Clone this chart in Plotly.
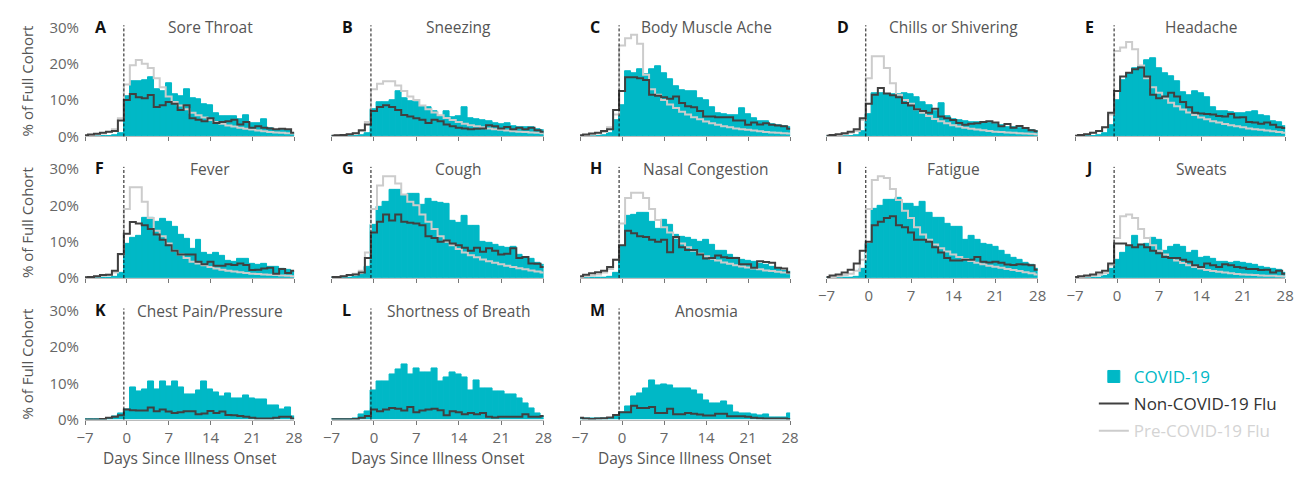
import plotly.graph_objects as go

# ---------------- data (percent of full cohort, days -7 .. 28) ----------------
DAYS = list(range(-7, 29))
X_TICKS = [-7, 0, 7, 14, 21, 28]
X_TICK_LABELS = ["\u22127", "0", "7", "14", "21", "28"]
Y_TICKS = [0, 10, 20, 30]
Y_TICK_LABELS = ["0%", "10%", "20%", "30%"]
ONSET_EDGE = -0.5

LETTERS = ["A", "B", "C", "D", "E", "F", "G", "H", "I", "J", "K", "L", "M"]
TITLES = ["Sore Throat", "Sneezing", "Body Muscle Ache", "Chills or Shivering", "Headache",
          "Fever", "Cough", "Nasal Congestion", "Fatigue", "Sweats",
          "Chest Pain/Pressure", "Shortness of Breath", "Anosmia"]

SORE_THROAT_COVID = [0, 0, 0, 0, 0, 0.3, 0.8, 11, 15.3, 15.3, 15.5, 16.3, 13.0, 12.5, 14.5, 11.5, 11.0, 13.0, 10.4, 10.2, 8.8, 8.5, 6.4, 5.5, 5.5, 5.5, 4.6, 5.7, 3.5, 3.5, 4.6, 2.2, 1.8, 1.8, 1.6, 1.0]
SORE_THROAT_FLU = [0.3, 0.5, 0.7, 1.0, 1.3, 1.5, 4.4, 10.0, 11.7, 10.8, 10.5, 11.4, 8.1, 8.6, 9.5, 9.0, 7.3, 8.6, 5.0, 4.6, 4.2, 5.0, 3.7, 4.0, 4.2, 4.6, 3.3, 4.0, 2.4, 2.8, 2.4, 2.2, 2.0, 2.1, 2.0, 1.0]
SORE_THROAT_PRE = [0.2, 0.3, 0.5, 0.8, 1.2, 2.0, 5.0, 14.3, 19.6, 21.0, 20.0, 18.8, 16.0, 13.5, 11.0, 9.5, 8.5, 7.5, 6.5, 5.8, 5.2, 4.5, 4.0, 3.5, 3.0, 2.7, 2.4, 2.1, 1.9, 1.6, 1.4, 1.2, 1.1, 1.0, 0.9, 0.8]

SNEEZING_COVID = [0, 0, 0, 0, 0, 0.3, 1.0, 7.5, 9.5, 9.5, 10.0, 12.5, 10.5, 9.8, 9.5, 8.2, 8.0, 6.8, 5.5, 6.8, 5.2, 5.5, 8.1, 5.0, 4.8, 4.5, 4.2, 3.7, 3.3, 3.5, 2.8, 2.6, 2.5, 2.4, 2.1, 1.6]
SNEEZING_FLU = [0.2, 0.3, 0.4, 0.6, 0.9, 1.7, 3.3, 7.0, 8.1, 8.6, 8.1, 7.3, 5.9, 5.5, 5.0, 4.6, 3.7, 4.6, 4.2, 3.3, 2.8, 2.4, 2.2, 2.0, 2.1, 2.2, 3.1, 2.8, 2.2, 2.6, 2.0, 2.4, 2.0, 2.4, 1.7, 1.3]
SNEEZING_PRE = [0.2, 0.3, 0.4, 0.6, 0.9, 1.5, 4.0, 13.0, 14.5, 15.2, 15.2, 14.0, 12.5, 11.0, 10.0, 8.5, 7.5, 6.6, 5.8, 5.1, 4.5, 4.0, 3.5, 3.1, 2.8, 2.5, 2.2, 2.0, 1.8, 1.6, 1.4, 1.3, 1.2, 1.1, 1.0, 0.9]

MUSCLE_COVID = [0, 0, 0, 0, 0.3, 0.8, 4.5, 8.5, 18.0, 17.5, 18.5, 17.0, 18.5, 19.3, 17.3, 15.7, 13.9, 12.8, 12.3, 12.5, 10.4, 10.0, 8.1, 6.3, 6.0, 5.9, 5.8, 7.7, 6.2, 5.0, 4.3, 4.2, 3.4, 3.0, 2.8, 2.4]
MUSCLE_FLU = [0.3, 0.5, 0.8, 1.0, 1.5, 2.0, 7.3, 12.5, 16.3, 16.3, 16.0, 15.5, 11.5, 11.2, 10.8, 10.4, 11.0, 9.2, 8.3, 8.0, 7.0, 5.5, 5.5, 5.3, 5.3, 5.3, 4.4, 4.4, 3.2, 3.8, 3.3, 3.6, 3.2, 3.0, 2.8, 2.1]
MUSCLE_PRE = [0.2, 0.3, 0.5, 0.8, 1.2, 2.5, 6.0, 25.0, 27.0, 28.0, 25.5, 17.0, 13.0, 11.5, 10.0, 8.8, 7.8, 6.8, 6.0, 5.3, 4.7, 4.1, 3.6, 3.2, 2.8, 2.5, 2.2, 2.0, 1.8, 1.6, 1.4, 1.2, 1.1, 1.0, 0.9, 0.8]

CHILLS_COVID = [0, 0, 0, 0, 0, 0.3, 1.5, 6.0, 12.0, 12.0, 11.7, 11.5, 11.7, 11.8, 11.5, 10.8, 9.5, 8.6, 7.0, 9.2, 5.5, 4.8, 4.5, 4.2, 3.8, 3.8, 4.0, 3.6, 3.3, 3.0, 2.6, 2.4, 2.2, 2.0, 1.8, 1.5]
CHILLS_FLU = [0.2, 0.4, 0.6, 0.9, 1.3, 2.0, 5.0, 9.0, 11.5, 13.3, 11.8, 11.3, 10.8, 9.2, 8.5, 7.5, 7.0, 6.5, 7.6, 5.5, 5.0, 4.5, 3.7, 3.2, 3.5, 3.6, 4.0, 4.2, 3.8, 2.8, 3.4, 2.4, 2.9, 2.3, 1.7, 1.4]
CHILLS_PRE = [0.2, 0.3, 0.4, 0.6, 1.0, 1.5, 4.5, 16.0, 22.1, 22.1, 18.8, 14.6, 11.5, 10.0, 9.0, 7.5, 6.5, 5.6, 4.8, 4.2, 3.6, 3.1, 2.7, 2.4, 2.1, 1.9, 1.7, 1.5, 1.3, 1.2, 1.1, 1.0, 0.9, 0.8, 0.7, 0.6]

HEADACHE_COVID = [0, 0, 0, 0, 0.3, 0.8, 3.0, 10.0, 15.5, 17.5, 18.8, 19.3, 21.0, 21.5, 18.8, 17.4, 16.5, 15.2, 12.2, 11.2, 12.5, 12.0, 10.8, 8.1, 6.8, 6.8, 6.7, 6.5, 6.3, 6.7, 6.9, 5.8, 5.5, 4.2, 3.8, 2.8]
HEADACHE_FLU = [0.2, 0.4, 0.6, 1.0, 1.5, 2.5, 6.5, 12.5, 16.5, 17.5, 18.5, 19.0, 16.5, 11.5, 10.5, 11.0, 12.0, 11.0, 9.5, 8.0, 6.5, 6.3, 6.2, 6.0, 5.6, 5.5, 6.2, 5.2, 5.3, 4.0, 3.8, 3.5, 3.8, 3.2, 2.5, 2.3]
HEADACHE_PRE = [0.2, 0.4, 0.6, 1.0, 1.5, 2.5, 6.0, 23.5, 24.5, 26.0, 24.0, 19.5, 16.0, 13.5, 12.0, 10.5, 9.3, 8.3, 7.4, 6.6, 5.9, 5.2, 4.7, 4.2, 3.8, 3.4, 3.1, 2.8, 2.5, 2.2, 2.0, 1.8, 1.6, 1.4, 1.2, 1.0]

FEVER_COVID = [0, 0, 0, 0, 0, 0.3, 1.5, 9.5, 11.0, 11.5, 16.5, 16.5, 15.5, 16.3, 15.5, 14.0, 12.0, 10.8, 8.0, 10.5, 6.8, 6.5, 6.8, 6.0, 4.7, 4.5, 5.2, 5.3, 4.0, 3.6, 3.9, 3.2, 3.2, 2.6, 2.2, 1.6]
FEVER_FLU = [0.2, 0.3, 0.5, 0.8, 0.9, 2.0, 6.6, 12.2, 15.4, 15.0, 14.5, 13.5, 12.0, 10.5, 9.0, 7.5, 6.5, 6.5, 6.5, 4.5, 3.8, 4.5, 3.4, 3.4, 3.8, 3.6, 4.0, 3.6, 2.2, 2.3, 2.6, 2.8, 1.2, 2.5, 1.4, 2.0]
FEVER_PRE = [0.2, 0.3, 0.4, 0.6, 0.9, 1.5, 6.5, 19.0, 25.0, 25.0, 21.0, 16.5, 13.0, 11.5, 9.5, 7.5, 6.5, 5.5, 4.5, 4.0, 3.5, 3.0, 2.6, 2.3, 2.0, 1.8, 1.6, 1.4, 1.2, 1.1, 1.0, 0.9, 0.8, 0.7, 0.6, 0.5]

COUGH_COVID = [0, 0, 0, 0, 0.3, 0.8, 3.0, 14.5, 19.5, 21.0, 24.2, 24.2, 22.7, 23.3, 23.3, 20.2, 21.7, 21.0, 20.8, 20.5, 15.7, 15.3, 17.2, 14.4, 14.4, 10.0, 9.6, 9.0, 8.6, 8.3, 8.6, 6.5, 5.6, 5.3, 4.3, 3.5]
COUGH_FLU = [0.3, 0.3, 0.5, 0.8, 1.0, 1.5, 5.5, 12.5, 15.5, 17.5, 15.8, 17.5, 15.5, 15.2, 15.0, 14.5, 11.5, 11.0, 10.0, 10.3, 9.5, 9.0, 8.3, 7.5, 8.3, 7.2, 8.2, 7.5, 6.5, 6.7, 8.2, 5.5, 5.8, 4.0, 3.9, 3.0]
COUGH_PRE = [0.2, 0.3, 0.5, 0.8, 1.2, 2.0, 7.0, 19.0, 25.5, 28.0, 28.0, 26.0, 23.0, 21.0, 20.0, 17.5, 15.5, 13.5, 11.5, 10.0, 9.0, 8.0, 7.0, 6.3, 5.7, 5.1, 4.6, 4.2, 3.8, 3.4, 3.0, 2.7, 2.4, 2.1, 1.8, 1.5]

NASAL_COVID = [0, 0, 0, 0, 0, 0.3, 1.5, 8.5, 17.0, 17.5, 18.0, 18.0, 15.5, 13.5, 16.0, 14.5, 12.0, 11.3, 11.0, 10.5, 10.0, 10.4, 9.0, 7.5, 7.5, 6.5, 5.5, 5.0, 4.8, 4.5, 4.0, 3.7, 3.0, 2.6, 2.1, 1.6]
NASAL_FLU = [0.5, 0.9, 1.3, 1.6, 2.0, 3.0, 5.0, 9.0, 13.0, 12.3, 11.5, 11.3, 10.5, 10.0, 10.5, 7.1, 11.3, 8.5, 7.7, 7.7, 6.5, 5.4, 5.5, 6.2, 5.7, 5.5, 5.5, 3.8, 3.8, 2.8, 4.6, 4.4, 4.2, 2.8, 2.6, 1.5]
NASAL_PRE = [0.3, 0.5, 0.7, 1.0, 1.5, 2.5, 5.0, 15.0, 22.0, 23.5, 23.5, 22.0, 19.0, 16.0, 14.0, 12.5, 11.0, 9.5, 8.5, 7.5, 6.7, 6.0, 5.3, 4.8, 4.3, 3.9, 3.5, 3.2, 2.9, 2.6, 2.4, 2.1, 1.9, 1.7, 1.5, 1.3]

FATIGUE_COVID = [0, 0, 0, 0, 0, 0.3, 2.5, 9.5, 19.0, 20.0, 21.5, 21.5, 22.0, 20.5, 20.5, 19.5, 21.0, 18.0, 16.5, 16.5, 15.0, 14.0, 14.0, 10.5, 11.7, 10.5, 9.5, 9.0, 8.5, 7.5, 6.5, 5.5, 5.0, 4.3, 3.5, 2.5]
FATIGUE_FLU = [0.3, 0.7, 1.0, 1.5, 2.3, 4.0, 7.5, 10.0, 14.5, 15.5, 16.5, 17.0, 14.5, 14.0, 12.5, 10.5, 10.5, 10.0, 8.5, 7.0, 5.5, 4.8, 4.8, 5.0, 5.0, 5.8, 4.5, 4.3, 4.5, 4.2, 3.7, 3.6, 3.8, 3.7, 3.5, 2.3]
FATIGUE_PRE = [0.2, 0.3, 0.5, 0.8, 1.2, 2.0, 5.0, 19.0, 27.0, 28.0, 27.5, 24.5, 21.5, 18.5, 16.5, 14.0, 12.0, 10.5, 9.2, 8.2, 7.3, 6.5, 5.8, 5.2, 4.7, 4.2, 3.8, 3.4, 3.1, 2.8, 2.5, 2.2, 1.9, 1.6, 1.3, 1.0]

SWEATS_COVID = [0, 0, 0, 0, 0, 0.5, 2.5, 5.0, 7.0, 8.5, 11.5, 9.0, 9.5, 11.0, 10.5, 7.5, 8.5, 9.0, 8.5, 6.8, 7.5, 5.5, 5.7, 5.3, 4.5, 4.5, 4.2, 4.5, 4.3, 3.8, 3.5, 3.2, 2.8, 2.5, 2.2, 1.5]
SWEATS_FLU = [0.3, 0.5, 0.7, 1.0, 1.5, 2.0, 4.0, 9.5, 9.5, 9.0, 8.5, 9.2, 8.5, 7.5, 6.8, 5.8, 5.5, 5.5, 5.0, 4.5, 3.5, 3.0, 4.0, 3.5, 3.0, 3.8, 3.5, 3.0, 2.8, 2.5, 2.5, 2.2, 2.3, 1.5, 2.0, 1.2]
SWEATS_PRE = [0.2, 0.3, 0.4, 0.6, 0.9, 1.4, 3.5, 11.0, 17.0, 17.5, 16.5, 13.5, 11.0, 9.0, 7.5, 6.5, 5.5, 4.8, 4.1, 3.5, 3.0, 2.6, 2.2, 1.9, 1.7, 1.5, 1.3, 1.1, 1.0, 0.9, 0.8, 0.7, 0.6, 0.6, 0.5, 0.4]

CHEST_COVID = [0, 0, 0, 0, 0.3, 0.8, 1.8, 2.8, 8.8, 7.8, 8.4, 10.4, 8.2, 10.4, 9.0, 10.4, 8.8, 6.9, 6.9, 8.1, 10.4, 8.4, 7.5, 6.3, 7.3, 5.7, 5.7, 6.6, 5.7, 5.5, 5.5, 4.0, 4.0, 2.8, 3.3, 1.0]
CHEST_FLU = [0, 0, 0, 0.2, 0.5, 0.8, 1.2, 2.8, 2.6, 2.5, 2.5, 3.3, 2.3, 2.8, 2.2, 1.8, 2.0, 2.3, 2.3, 1.5, 1.7, 2.4, 1.8, 2.2, 1.3, 1.2, 1.0, 0.8, 0.5, 0.3, 0.3, 0.3, 0.5, 0.8, 0.8, 0.3]

BREATH_COVID = [0, 0, 0, 0, 0.3, 1.3, 2.2, 8.1, 10.4, 10.4, 12.5, 13.9, 15.1, 12.5, 14.2, 13.0, 13.0, 14.2, 10.4, 11.6, 13.0, 12.5, 11.6, 8.1, 10.7, 8.6, 8.6, 7.7, 7.7, 6.8, 6.8, 5.7, 4.4, 3.1, 1.8, 1.0]
BREATH_FLU = [0.1, 0.1, 0.1, 0.1, 0.2, 0.5, 1.0, 2.8, 2.3, 2.8, 3.2, 3.0, 2.5, 3.5, 2.0, 2.5, 2.8, 3.0, 2.6, 1.2, 2.3, 2.0, 1.5, 1.8, 1.5, 1.8, 0.8, 0.6, 0.8, 0.8, 0.8, 0.8, 1.5, 0.8, 0.8, 1.0]

ANOSMIA_COVID = [0.2, 0.2, 0.2, 0.2, 0.2, 0.3, 0.8, 2.0, 3.5, 6.5, 7.2, 8.5, 10.8, 9.3, 9.8, 9.5, 8.5, 8.5, 8.5, 8.0, 6.8, 5.2, 4.5, 4.5, 5.0, 3.8, 2.0, 1.7, 1.8, 1.4, 1.2, 1.3, 0.6, 0.5, 0.5, 1.8]
ANOSMIA_FLU = [0.5, 0.3, 0.2, 0.3, 0.4, 0.6, 1.3, 2.0, 2.0, 3.8, 3.2, 3.2, 3.5, 1.8, 1.8, 3.0, 1.5, 1.5, 1.8, 1.6, 1.4, 1.1, 1.1, 1.6, 1.6, 0.9, 0.9, 0.9, 0.8, 0.5, 0.4, 0.3, 0.3, 0.3, 0.3, 0.2]

COVID = [SORE_THROAT_COVID, SNEEZING_COVID, MUSCLE_COVID, CHILLS_COVID, HEADACHE_COVID,
         FEVER_COVID, COUGH_COVID, NASAL_COVID, FATIGUE_COVID, SWEATS_COVID,
         CHEST_COVID, BREATH_COVID, ANOSMIA_COVID]
FLU = [SORE_THROAT_FLU, SNEEZING_FLU, MUSCLE_FLU, CHILLS_FLU, HEADACHE_FLU,
       FEVER_FLU, COUGH_FLU, NASAL_FLU, FATIGUE_FLU, SWEATS_FLU,
       CHEST_FLU, BREATH_FLU, ANOSMIA_FLU]
PRE = [SORE_THROAT_PRE, SNEEZING_PRE, MUSCLE_PRE, CHILLS_PRE, HEADACHE_PRE,
       FEVER_PRE, COUGH_PRE, NASAL_PRE, FATIGUE_PRE, SWEATS_PRE,
       None, None, None]

# ---------------- style / layout ----------------
TEAL = "#00B8C6"
DARK = "#404040"
LIGHT = "#CCCCCC"
FONT = "Open Sans"
PAGE_MARGIN = 8                      # default body margin of the written page
W, H = 1312 - 2 * PAGE_MARGIN, 479 - 2 * PAGE_MARGIN


def px(v):
    return (v - PAGE_MARGIN) / W


def py(v):
    return 1 - (v - PAGE_MARGIN) / H


COL_LEFT = [77, 327, 579, 829, 1081]
COL_RIGHT = [289, 542, 792, 1043, 1294]
ROW_BASE = [133, 280, 427]
PLOT_H = 115.4
X_LABELED = {8, 9, 10, 11, 12}

edges = [d - 0.5 for d in DAYS] + [DAYS[-1] + 0.5]

fig = go.Figure()
layout = {}
shapes = []
annotations = []

for i in range(13):
    r, c = divmod(i, 5)
    n = i + 1
    xa = "x" if n == 1 else f"x{n}"
    ya = "y" if n == 1 else f"y{n}"
    first = i == 0

    fig.add_trace(go.Bar(
        x=DAYS, y=COVID[i], width=1, xaxis=xa, yaxis=ya,
        marker=dict(color=TEAL, line=dict(color=TEAL, width=1)),
        name=f"<span style='color:{TEAL}'>COVID-19</span>",
        legendgroup="covid", showlegend=first, legendrank=1, hoverinfo="skip"))
    if PRE[i] is not None:
        fig.add_trace(go.Scatter(
            x=edges, y=PRE[i] + [PRE[i][-1]], mode="lines", line_shape="hv",
            line=dict(color=LIGHT, width=2), xaxis=xa, yaxis=ya,
            name="<span style='color:#D4D4D4'>Pre-COVID-19 Flu</span>",
            legendgroup="pre", showlegend=first, legendrank=3, hoverinfo="skip"))
    fig.add_trace(go.Scatter(
        x=edges, y=FLU[i] + [FLU[i][-1]], mode="lines", line_shape="hv",
        line=dict(color=DARK, width=2), xaxis=xa, yaxis=ya,
        name="<span style='color:#333333'>Non-COVID-19 Flu</span>",
        legendgroup="flu", showlegend=first, legendrank=2, hoverinfo="skip"))

    x0, x1 = px(COL_LEFT[c]), px(COL_RIGHT[c])
    y0 = py(ROW_BASE[r])
    y1 = py(ROW_BASE[r] - PLOT_H)
    key = "" if n == 1 else str(n)
    layout[f"xaxis{key}"] = dict(
        domain=[x0, x1], anchor=ya, range=[-7, 28],
        tickvals=X_TICKS, ticktext=X_TICK_LABELS, showticklabels=i in X_LABELED,
        ticks="outside", ticklen=4, tickcolor="#777777", tickwidth=1,
        showline=True, linecolor="#BBBBBB", linewidth=1,
        showgrid=False, zeroline=False,
        tickfont=dict(family=FONT, size=15, color="#666666"))
    layout[f"yaxis{key}"] = dict(
        domain=[y0, y1], anchor=xa, range=[0, 30.6],
        tickvals=Y_TICKS, ticktext=Y_TICK_LABELS, showticklabels=(c == 0),
        ticks="", showline=False, showgrid=False, zeroline=False,
        ticklabelstandoff=5,
        tickfont=dict(family=FONT, size=15, color="#666666"))

    shapes.append(dict(type="line", xref=xa, yref=f"{ya} domain",
                       x0=ONSET_EDGE, x1=ONSET_EDGE, y0=0, y1=1,
                       line=dict(color="#111111", width=1, dash="3px,2px")))
    annotations.append(dict(xref=xa, yref=ya, x=-5.6, y=30.2, text=f"<b>{LETTERS[i]}</b>",
                            xanchor="left", yanchor="middle", showarrow=False,
                            font=dict(family=FONT, size=16, color="#111111")))
    annotations.append(dict(xref=xa, yref=ya, x=14, y=30, text=TITLES[i],
                            xanchor="center", yanchor="middle", showarrow=False,
                            font=dict(family=FONT, size=15.5, color="#555555")))
    if i >= 10:
        annotations.append(dict(xref="paper", yref="paper", x=(x0 + x1) / 2, y=py(467),
                                text="Days Since Illness Onset", xanchor="center", yanchor="middle",
                                showarrow=False, font=dict(family=FONT, size=15.5, color="#555555")))

for r in range(3):
    annotations.append(dict(xref="paper", yref="paper", x=px(18), y=py(ROW_BASE[r] - 58),
                            text="% of Full Cohort",
                            textangle=-90, xanchor="center", yanchor="middle", showarrow=False,
                            font=dict(family=FONT, size=15, color="#555555")))

fig.update_layout(
    **layout,
    width=W, height=H, margin=dict(l=0, r=0, t=0, b=0),
    paper_bgcolor="white", plot_bgcolor="white",
    barmode="overlay", bargap=0,
    shapes=shapes, annotations=annotations,
    legend=dict(x=px(1100), y=py(364), xanchor="left", yanchor="top",
                font=dict(family=FONT, size=17, color="#333333"),
                bgcolor="rgba(0,0,0,0)", itemwidth=30,
                traceorder="grouped", tracegroupgap=2),
)

fig.write_html("out.html", config={"displayModeBar": False})
